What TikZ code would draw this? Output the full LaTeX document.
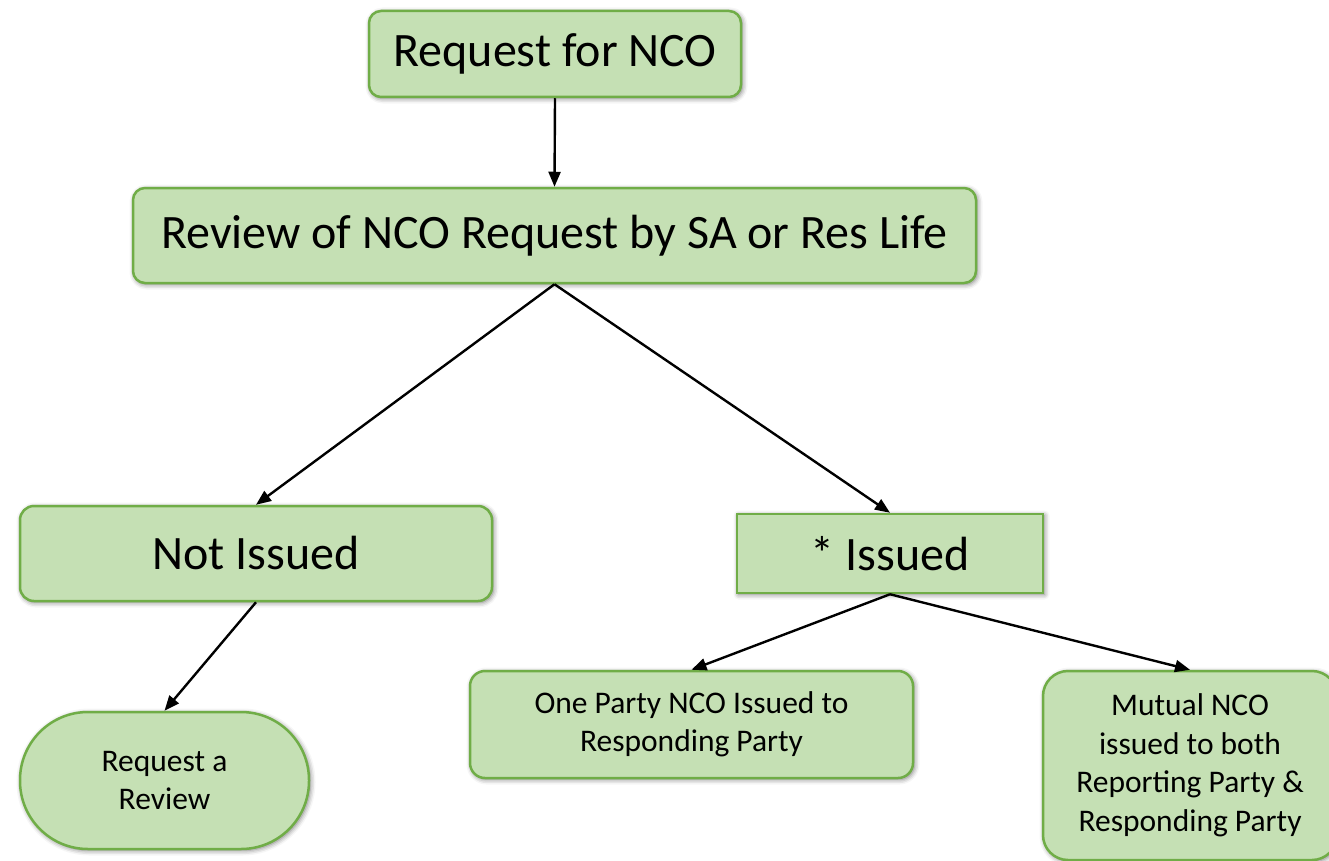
\documentclass[tikz,border=0pt]{standalone}
\usepackage{fontspec}
\setmainfont{Carlito}
\usetikzlibrary{arrows.meta,shadows.blur}
\definecolor{boxfill}{HTML}{C5E0B4}
\definecolor{boxline}{HTML}{70AD47}
\begin{document}
\begin{tikzpicture}[x=1pt,y=-1pt,
  box/.style={draw=boxline, fill=boxfill, line width=2.5pt, inner sep=0pt, align=center,
    blur shadow={shadow xshift=1.5pt, shadow yshift=-1.5pt, shadow blur radius=5pt, shadow opacity=55}},
  bigtxt/.style={font=\fontsize{48}{57}\selectfont},
  smalltxt/.style={font=\fontsize{31.5}{38.5}\selectfont},
  conn/.style={line width=2.4pt, -{Triangle[length=15pt,width=12pt]}}]
\useasboundingbox (0,0) rectangle (1329,861);
\clip (0,0) rectangle (1329,861);
\node[box, bigtxt, rounded corners=12pt, minimum width=372pt, minimum height=86pt] (req) at (555,54) {Request for NCO};
\node[box, bigtxt, rounded corners=12pt, minimum width=843pt, minimum height=95pt] (rev) at (554.5,235.5) {Review of NCO Request by SA or Res Life};
\node[box, bigtxt, rounded corners=14pt, minimum width=472pt, minimum height=95pt] (not) at (256,553.5) {Not Issued};
\node[box, bigtxt, minimum width=306pt, minimum height=79pt] (iss) at (890,553.5) {* Issued};
\node[box, smalltxt, rounded corners=68pt, minimum width=289pt, minimum height=137pt] (rar) at (164.5,780.5) {Request a\\Review};
\node[box, smalltxt, rounded corners=15pt, minimum width=443pt, minimum height=107pt] (one) at (691.5,724.5) {One Party NCO Issued to\\Responding Party};
\node[box, smalltxt, rounded corners=25pt, minimum width=294pt, minimum height=189pt] (mut) at (1190,765.5) {Mutual NCO\\issued to both\\Reporting Party \&\\Responding Party};
\draw[conn] (req.south) -- (rev.north);
\draw[conn] (rev.south) -- (not.north);
\draw[conn] (rev.south) -- (iss.north);
\draw[conn] (not.south) -- (rar.north);
\draw[conn] (iss.south) -- (one.north);
\draw[conn] (iss.south) -- (mut.north);
\end{tikzpicture}
\end{document}
